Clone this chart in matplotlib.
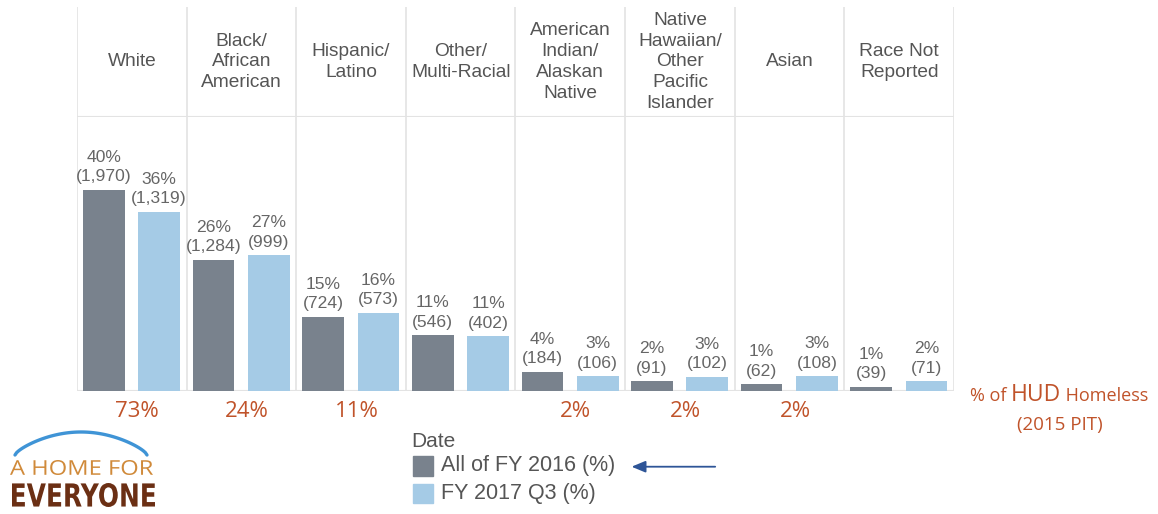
import matplotlib.pyplot as plt
from matplotlib.patches import Rectangle, FancyArrowPatch, PathPatch
from matplotlib.textpath import TextPath
from matplotlib.font_manager import FontProperties
from matplotlib.transforms import Affine2D
import numpy as np

plt.rcParams['font.family'] = ['Liberation Sans', 'DejaVu Sans']

# data
races = ['White', 'Black/\nAfrican\nAmerican', 'Hispanic/\nLatino', 'Other/\nMulti-Racial',
         'American\nIndian/\nAlaskan\nNative', 'Native\nHawaiian/\nOther\nPacific\nIslander',
         'Asian', 'Race Not\nReported']
pct_2016 = [40.2, 26.2, 14.8, 11.1, 3.8, 1.9, 1.3, 0.8]
cnt_2016 = ['1,970', '1,284', '724', '546', '184', '91', '62', '39']
pct_2017 = [35.8, 27.1, 15.6, 10.9, 2.9, 2.8, 2.9, 1.9]
cnt_2017 = ['1,319', '999', '573', '402', '106', '102', '108', '71']
hud_pct = ['73%', '24%', '11%', '', '2%', '2%', '2%', '']
series = ['All of FY 2016 (%)', 'FY 2017 Q3 (%)']

dark = '#79828d'
light = '#a5cbe6'
grid = '#e3e3e3'
red = '#c0532a'
W, H = 1158, 514

fig = plt.figure(figsize=(W / 100, H / 100), dpi=100)

left, width = 0.0665, 0.7573
ax = fig.add_axes([left, 0.2393, width, 0.5325])
hx = fig.add_axes([left, 0.7718, width, 0.2152])

n = len(races)
x = np.arange(n)
b1 = ax.bar(x + 0.245, pct_2016, width=0.38, color=dark)
b2 = ax.bar(x + 0.75, pct_2017, width=0.38, color=light)
ax.set_xlim(0, n)
ax.set_ylim(0, 54.7)
ax.axis('off')
for i in range(n + 1):
    ax.axvline(i, color=grid, lw=1.2, zorder=0)
ax.axhline(0, color=grid, lw=1.5, zorder=0)

for bars, pcts, cnts in [(b1, pct_2016, cnt_2016), (b2, pct_2017, cnt_2017)]:
    for b, p, c in zip(bars, pcts, cnts):
        ax.annotate(f'{round(p):.0f}%\n({c})', (b.get_x() + b.get_width() / 2, b.get_height()),
                    xytext=(0, 4), textcoords='offset points', ha='center', va='bottom',
                    fontsize=12.6, color='#666666', linespacing=1.38)

for i, h in enumerate(hud_pct):
    ax.text(i + 0.55, -5.2, h, ha='center', va='baseline', fontsize=16, color=red,
            family=['Open Sans', 'DejaVu Sans'])

# header row
hx.set_xlim(0, n)
hx.set_ylim(0, 1)
hx.axis('off')
for i in range(n + 1):
    hx.axvline(i, color=grid, lw=1.2)
hx.axhline(0, color=grid, lw=1.5)
for i, r in enumerate(races):
    hx.text(i + 0.5, 0.5, r, ha='center', va='center', fontsize=13.8, color='#555555',
            linespacing=1.3)

# HUD note, centred line made of three pieces
of = ['Open Sans', 'DejaVu Sans']
parts = [('% of ', 13), ('HUD', 16.5), (' Homeless', 13)]
pieces = [fig.text(0, 0.219, s, ha='left', va='baseline', fontsize=fs, color=red, family=of)
          for s, fs in parts]
fig.canvas.draw()
r = fig.canvas.get_renderer()
widths = [p.get_window_extent(r).width for p in pieces]
xpos = 1059 - sum(widths) / 2
for p, w in zip(pieces, widths):
    p.set_x(xpos / W)
    xpos += w
fig.text(0.915, 0.173, '(2015 PIT)', ha='center', va='center', fontsize=13.5, color=red, family=of)

# legend
fig.text(0.3555, 0.142, 'Date', ha='left', va='center', fontsize=15, color='#555555')
for k, (lab, col) in enumerate(zip(series, [dark, light])):
    y = 0.0934 - k * 0.0544
    fig.patches.append(Rectangle((0.3566, y - 0.0185), 0.0173, 0.037,
                                 transform=fig.transFigure, color=col))
    fig.text(0.3805, y, lab, ha='left', va='center', fontsize=15.5, color='#555555')
fig.patches.append(FancyArrowPatch((0.620, 0.092), (0.543, 0.092), transform=fig.transFigure,
                                   arrowstyle='-|>,head_length=0.6,head_width=0.25',
                                   mutation_scale=14, color='#2e5597', lw=1.3))

# logo
t = np.linspace(0, 1, 80)
lx = 15 + 132 * t
ly = H - (455 - 23 * np.sin(np.pi * t) ** 0.7)
fig.add_artist(plt.Line2D(lx / W, ly / H, transform=fig.transFigure, color='#3f94d6', lw=2.4,
                          solid_capstyle='round'))


def box_text(s, prop, x0, y0, x1, y1, color):
    p = TextPath((0, 0), s, size=10, prop=prop)
    e = p.get_extents()
    tr = (Affine2D().translate(-e.x0, -e.y0)
          .scale((x1 - x0) / e.width, (y1 - y0) / e.height)
          .translate(x0, H - y1).scale(1 / W, 1 / H))
    fig.add_artist(PathPatch(tr.transform_path(p), transform=fig.transFigure,
                             color=color, lw=0))


box_text('A HOME FOR', FontProperties(family='Open Sans'), 10, 460, 153, 475, '#d08a3a')
box_text('EVERYONE', FontProperties(family='DejaVu Sans', weight='bold'), 12, 483, 155, 507,
         '#6b2f14')

fig.savefig('out.png', dpi=100)
